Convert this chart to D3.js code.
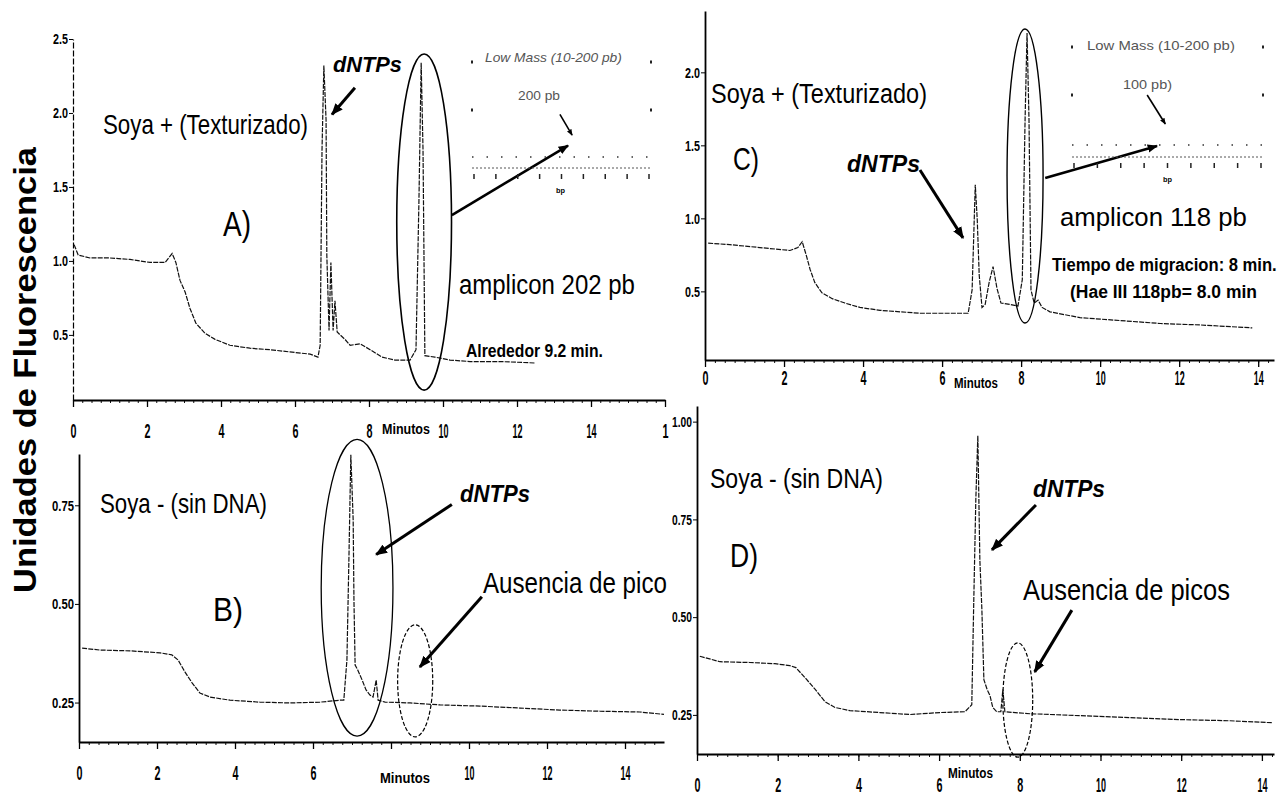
<!DOCTYPE html>
<html>
<head>
<meta charset="utf-8">
<script src="https://cdn.jsdelivr.net/npm/d3@7"></script>
<style>
  body { margin: 0; background: #fff; }
  text { font-family: "Liberation Sans Narrow", "Liberation Sans", Arial, sans-serif; }
</style>
</head>
<body>
<svg id="drawing_region"></svg>
<script>
// ---- data: [minutes, fluorescence] ----
const traceA = [[0.03,1.11],[0.14,1.04],[0.46,1.02],[1.0,1.02],[1.54,1.01],[2.08,0.99],[2.49,0.99],[2.68,1.05],[2.78,0.99],
  [2.89,0.87],[3.03,0.79],[3.16,0.68],[3.32,0.58],[3.57,0.51],[3.84,0.47],[4.24,0.43],[4.78,0.41],[5.32,0.40],[5.86,0.385],
  [6.41,0.37],[6.62,0.35],[6.68,0.43],[6.73,1.75],[6.78,2.32],[6.84,1.95],[6.86,1.04],[6.92,0.53],[6.97,0.99],[7.03,0.53],
  [7.08,0.73],[7.14,0.52],[7.22,0.50],[7.35,0.47],[7.49,0.43],[7.76,0.44],[8.03,0.40],[8.35,0.35],[8.7,0.33],[9.11,0.33],
  [9.27,0.40],[9.35,1.41],[9.41,2.34],[9.46,1.75],[9.51,0.36],[9.78,0.35],[10.19,0.33],[10.73,0.32],[11.54,0.32],[12.49,0.31]];

const traceB = [[0.08,0.388],[0.54,0.383],[1.31,0.381],[2.08,0.376],[2.38,0.371],[2.54,0.358],[2.72,0.327],[2.9,0.30],
  [3.1,0.274],[3.36,0.264],[3.87,0.256],[4.64,0.251],[5.41,0.249],[6.18,0.251],[6.69,0.256],[6.79,0.256],[6.87,0.358],
  [6.92,0.61],[6.97,0.878],[7.03,0.713],[7.05,0.51],[7.08,0.345],[7.15,0.332],[7.26,0.307],[7.36,0.282],[7.46,0.269],
  [7.54,0.264],[7.62,0.307],[7.67,0.256],[7.85,0.251],[8.49,0.249],[9.26,0.244],[10.28,0.241],[11.31,0.236],[12.33,0.231],
  [13.36,0.228],[14.38,0.226],[15.0,0.22]];

const traceC = [[0.08,0.83],[0.63,0.82],[1.39,0.80],[2.15,0.78],[2.35,0.80],[2.46,0.84],[2.56,0.75],[2.66,0.65],[2.78,0.56],
  [2.96,0.49],[3.22,0.45],[3.54,0.42],[3.92,0.39],[4.43,0.37],[4.94,0.36],[5.44,0.35],[6.2,0.35],[6.66,0.35],[6.76,0.51],
  [6.84,1.23],[6.89,0.99],[6.94,0.61],[7.01,0.39],[7.09,0.41],[7.19,0.56],[7.29,0.67],[7.39,0.52],[7.49,0.42],[7.72,0.41],
  [7.92,0.40],[8.03,0.58],[8.1,1.67],[8.15,2.27],[8.2,1.67],[8.25,0.51],[8.33,0.42],[8.43,0.44],[8.53,0.39],[8.73,0.36],
  [9.49,0.32],[10.51,0.30],[11.52,0.28],[12.53,0.27],[13.85,0.25]];

const traceD = [[0.07,0.40],[0.57,0.386],[1.31,0.384],[1.93,0.381],[2.3,0.376],[2.45,0.371],[2.68,0.345],[2.93,0.315],
  [3.17,0.284],[3.42,0.269],[3.79,0.261],[4.53,0.256],[5.28,0.251],[6.02,0.256],[6.64,0.258],[6.81,0.276],[6.86,0.545],
  [6.91,0.80],[6.96,0.964],[7.01,0.647],[7.06,0.52],[7.11,0.34],[7.19,0.315],[7.26,0.30],[7.33,0.269],[7.43,0.258],
  [7.53,0.258],[7.58,0.315],[7.63,0.258],[8.25,0.253],[9.49,0.248],[10.73,0.243],[11.97,0.238],[13.21,0.235],[14.25,0.23]];

// tick values and the labels printed in the figure
const yTicksAC = [0.5, 1.0, 1.5, 2.0, 2.5];
const yLabelsAC = ["0.5", "1.0", "1.5", "2.0", "2.5"];
const yTicksBD = [0.25, 0.50, 0.75, 1.00];
const yLabelsBD = ["0.25", "0.50", "0.75", "1.00"];
const xTicksA = [0, 2, 4, 6, 8, 10, 12, 14, 16];
const xLabelsA = ["0", "2", "4", "6", "8", "10", "12", "14", "1"];
const xTicksB = [0, 2, 4, 6, 8, 10, 12, 14];
const xLabelsB = ["0", "2", "4", "6", "", "10", "12", "14"];
const xTicksCD = [0, 2, 4, 6, 8, 10, 12, 14];
const xLabelsCD = ["0", "2", "4", "6", "8", "10", "12", "14"];

const svg = d3.select('#drawing_region')
    .attr('width', 1286)
    .attr('height', 800);

svg.append('rect').attr('width', 1286).attr('height', 800).attr('fill', '#fff');

svg.append('defs').append('marker')
    .attr('id', 'head')
    .attr('viewBox', '0 0 10 8')
    .attr('refX', 9).attr('refY', 4)
    .attr('markerWidth', 4).attr('markerHeight', 3.4)
    .attr('orient', 'auto')
    .append('path')
    .attr('d', 'M0,0 L10,4 L0,8 Z')
    .attr('fill', '#000');

// text squeezed horizontally to the width it has in the scan
function addText(x, y, str, size, len, opt) {
    opt = opt || {};
    const t = svg.append('text')
        .attr('x', 0).attr('y', 0)
        .attr('font-size', size)
        .attr('font-weight', opt.weight || 'normal')
        .attr('font-style', opt.style || 'normal')
        .attr('fill', opt.fill || '#000')
        .attr('text-anchor', opt.anchor || 'start')
        .text(str);
    const s = len ? len / t.node().getComputedTextLength() : 1;
    const rot = opt.rotate ? ` rotate(${opt.rotate})` : '';
    t.attr('transform', `translate(${x}, ${y})${rot} scale(${s}, 1)`);
    return t;
}

function squeeze(sel, widthOf) {
    sel.each(function (d) {
        const el = d3.select(this);
        const w = this.getComputedTextLength();
        if (!w) return;
        const x0 = +el.attr('x') || 0;
        el.attr('x', 0).attr('transform', `translate(${x0}, 0) scale(${widthOf(d) / w}, 1)`);
    });
}

function drawPanel(cfg, trace, yTicks, yLabels, yFmtLen, xTicks, xLabels) {
    const x = d3.scaleLinear().domain(cfg.xDom).range(cfg.xRange);
    const y = d3.scaleLinear().domain(cfg.yDom).range(cfg.yRange);
    const g = svg.append('g');

    // minor ticks along the time axis
    g.append('g')
        .attr('transform', `translate(0, ${cfg.yRange[0]})`)
        .call(d3.axisBottom(x).tickValues(d3.range(0, cfg.xDom[1], 0.25)).tickSize(3).tickFormat(''))
        .call(a => a.select('.domain').remove())
        .selectAll('line').attr('stroke', '#111').attr('stroke-width', 1);

    const xaxis = d3.axisBottom(x)
        .tickValues(xTicks)
        .tickFormat((d, i) => xLabels[i])
        .tickSize(7)
        .tickSizeOuter(0)
        .tickPadding(cfg.xPad);
    const xg = g.append('g')
        .attr('transform', `translate(0, ${cfg.yRange[0]})`)
        .call(xaxis);
    xg.select('.domain').attr('stroke-width', 1.8).attr('stroke', '#000');
    xg.selectAll('.tick line').attr('stroke-width', 1.3);
    xg.selectAll('text')
        .attr('font-size', 20).attr('font-weight', 'bold').attr('fill', '#000')
        .call(squeeze, d => String(xLabels[xTicks.indexOf(d)]).length > 1 ? 10 : 6);

    const yaxis = d3.axisLeft(y)
        .tickValues(yTicks.filter(v => v <= cfg.yDom[1]))
        .tickFormat(d => yLabels[yTicks.indexOf(d)])
        .tickSize(4)
        .tickSizeOuter(0)
        .tickPadding(1);
    const yg = g.append('g')
        .attr('transform', `translate(${cfg.xRange[0]}, 0)`)
        .call(yaxis);
    yg.select('.domain').attr('stroke-width', cfg.yDash ? 1.2 : 1.8).attr('stroke', '#000')
        .attr('stroke-dasharray', cfg.yDash || null);
    yg.selectAll('text')
        .attr('font-size', 15).attr('font-weight', 'bold').attr('fill', '#000')
        .call(squeeze, d => yLabels[yTicks.indexOf(d)].length * yFmtLen);

    const line = d3.line()
        .x(d => x(d[0]))
        .y(d => y(d[1]));
    g.append('path')
        .attr('d', line(trace))
        .attr('fill', 'none')
        .attr('stroke', '#111')
        .attr('stroke-width', 1.2)
        .attr('stroke-dasharray', '5,1.2');

    return { x, y };
}

function ellipse(p, c, r, width, dash) {
    svg.append('ellipse')
        .attr('cx', p.x(c[0])).attr('cy', p.y(c[1]))
        .attr('rx', p.x(c[0] + r[0]) - p.x(c[0]))
        .attr('ry', p.y(c[1] - r[1]) - p.y(c[1]))
        .attr('fill', 'none').attr('stroke', '#000')
        .attr('stroke-width', width)
        .attr('stroke-dasharray', dash || null);
}

function arrow(p, a, b, width) {
    svg.append('line')
        .attr('x1', p.x(a[0])).attr('y1', p.y(a[1]))
        .attr('x2', p.x(b[0])).attr('y2', p.y(b[1]))
        .attr('stroke', '#000').attr('stroke-width', width)
        .attr('marker-end', 'url(#head)');
}

function inset(x0, x1, top, row, mid) {
    const g = svg.append('g').attr('fill', '#222');
    [[x0, top], [x1, top], [x0, top + 48], [x1, top + 48]].forEach(c =>
        g.append('rect').attr('x', c[0] - 1).attr('y', c[1] - 1.5).attr('width', 2).attr('height', 3));
    g.append('line').attr('x1', x0).attr('x2', x1).attr('y1', row).attr('y2', row)
        .attr('stroke', '#333').attr('stroke-width', 1.5).attr('stroke-dasharray', '1.5,13');
    g.append('line').attr('x1', x0).attr('x2', x1).attr('y1', mid).attr('y2', mid)
        .attr('stroke', '#555').attr('stroke-width', 1).attr('stroke-dasharray', '2,2');
    const s = d3.scaleLinear().domain([0, 8]).range([x0 + 2, x1 - 2]);
    g.selectAll('line.tk').data(d3.range(9)).enter().append('line')
        .attr('x1', d => s(d)).attr('x2', d => s(d))
        .attr('y1', mid + 6).attr('y2', mid + 11)
        .attr('stroke', '#222').attr('stroke-width', 1.5);
}

// ---- panel A ----
const pA = drawPanel({ xDom: [0, 16], xRange: [73, 665], yDom: [0.06, 2.5], yRange: [400, 39], xPad: 17, yDash: '6,2' },
    traceA, yTicksAC, yLabelsAC, 5, xTicksA, xLabelsA);
// ---- panel B ----
const pB = drawPanel({ xDom: [0, 15], xRange: [79, 664], yDom: [0.15, 0.88], yRange: [742, 454], xPad: 17 },
    traceB, yTicksBD, yLabelsBD, 5.5, xTicksB, xLabelsB);
// ---- panel C ----
const pC = drawPanel({ xDom: [0, 14.4], xRange: [705, 1274], yDom: [0.03, 2.42], yRange: [360, 11], xPad: 4 },
    traceC, yTicksAC, yLabelsAC, 5, xTicksCD, xLabelsCD);
// ---- panel D ----
const pD = drawPanel({ xDom: [0, 14.3], xRange: [697, 1274], yDom: [0.15, 1.04], yRange: [754, 406], xPad: 17 },
    traceD, yTicksBD, yLabelsBD, 5, xTicksCD, xLabelsCD);

// ellipses around peaks
ellipse(pA, [9.49, 1.263], [0.74, 1.136], 1.6);
ellipse(pB, [7.13, 0.541], [0.92, 0.376], 1.3);
ellipse(pB, [8.62, 0.305], [0.45, 0.142], 1.2, '4,2');
ellipse(pC, [8.1, 1.29], [0.456, 1.007], 1.4);
ellipse(pD, [7.95, 0.288], [0.37, 0.146], 1.2, '4,2');

// arrows
arrow(pA, [7.62, 2.17], [7.0, 1.99], 3);
arrow(pA, [10.24, 1.31], [13.38, 1.78], 2.6);
arrow(pA, [13.16, 1.99], [13.49, 1.85], 1.6);
arrow(pB, [9.56, 0.752], [7.62, 0.625], 3);
arrow(pB, [10.33, 0.518], [8.74, 0.34], 3);
arrow(pC, [5.44, 1.331], [6.53, 0.866], 3);
arrow(pC, [8.61, 1.277], [11.44, 1.496], 2.6);
arrow(pC, [11.19, 1.845], [11.65, 1.646], 1.6);
arrow(pD, [8.4, 0.787], [7.31, 0.672], 3);
arrow(pD, [9.29, 0.518], [8.37, 0.36], 3);

// insets (Low Mass ladder)
inset(472, 651, 62, 157, 168);
inset(1072, 1263, 47, 145, 157);
addText(485, 62, 'Low Mass (10-200 pb)', 13, 137, { style: 'italic', fill: '#555' });
addText(518, 100, '200 pb', 13, 42, { fill: '#555' });
addText(556, 193, 'bp', 8, 9, { weight: 'bold' });
addText(1087, 50, 'Low Mass (10-200 pb)', 13, 148, { fill: '#555' });
addText(1123, 89, '100 pb)', 13, 49, { fill: '#555' });
addText(1163, 182, 'bp', 8, 9, { weight: 'bold' });

// panel texts
addText(103, 134, 'Soya + (Texturizado)', 27, 205);
addText(223, 236, 'A)', 36, 28);
addText(333, 72, 'dNTPs', 22, 69, { weight: 'bold', style: 'italic' });
addText(459, 294, 'amplicon 202 pb', 28, 176);
addText(466, 357, 'Alrededor 9.2 min.', 19, 137, { weight: 'bold' });
addText(382, 434, 'Minutos', 15, 48, { weight: 'bold' });

addText(100, 513, 'Soya - (sin DNA)', 27, 167);
addText(213, 621, 'B)', 33, 30);
addText(460, 502, 'dNTPs', 24, 70, { weight: 'bold', style: 'italic' });
addText(483, 593, 'Ausencia de pico', 29, 184);
addText(380, 783, 'Minutos', 15, 50, { weight: 'bold' });

addText(711, 103, 'Soya + (Texturizado)', 27, 216);
addText(733, 170, 'C)', 31, 26);
addText(847, 172, 'dNTPs', 23, 73, { weight: 'bold', style: 'italic' });
addText(1060, 226, 'amplicon 118 pb', 26, 187);
addText(1052, 271, 'Tiempo de migracion: 8 min.', 19, 225, { weight: 'bold' });
addText(1070, 298, '(Hae III  118pb= 8.0 min', 19, 187, { weight: 'bold' });
addText(954, 388, 'Minutos', 14, 44, { weight: 'bold' });

addText(710, 488, 'Soya - (sin DNA)', 27, 173);
addText(730, 567, 'D)', 33, 28);
addText(1033, 497, 'dNTPs', 23, 72, { weight: 'bold', style: 'italic' });
addText(1023, 600, 'Ausencia de picos', 29, 207);
addText(948, 778, 'Minutos', 14, 45, { weight: 'bold' });

// shared y-axis title
addText(36, 370, 'Unidades de Fluorescencia', 31, 446, { weight: 'bold', anchor: 'middle', rotate: -90 });
</script>
</body>
</html>
